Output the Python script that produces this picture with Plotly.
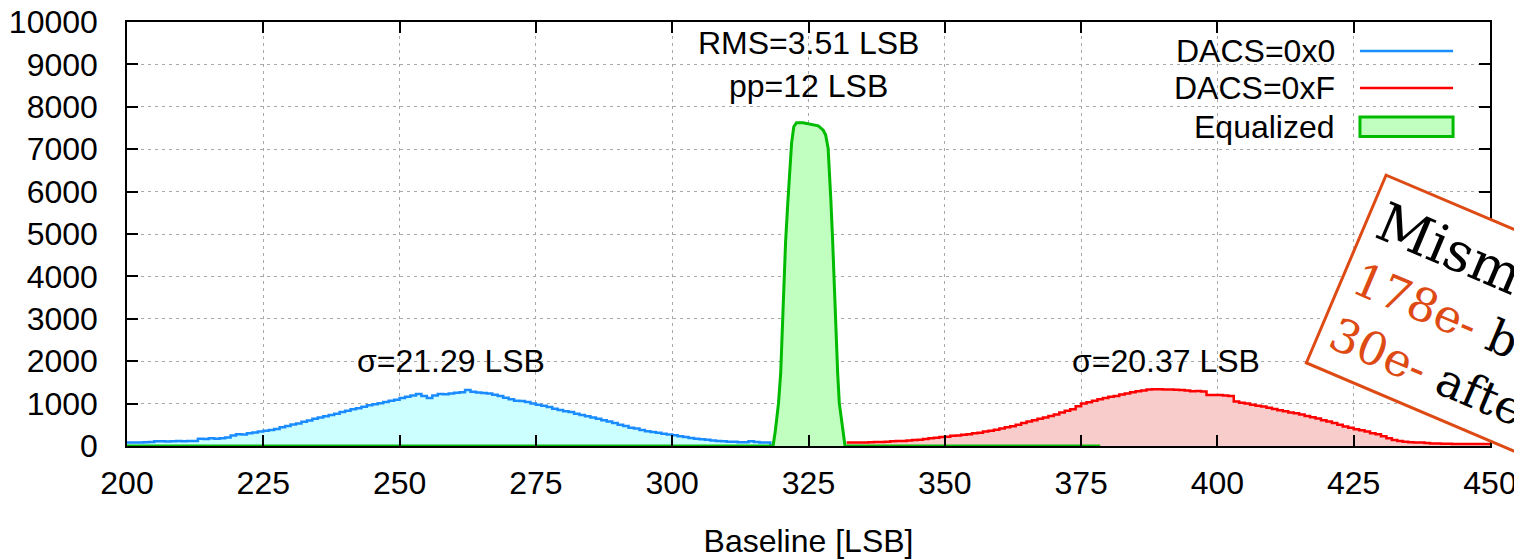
import plotly.graph_objects as go

# ---- data ----
blue_x = list(range(200, 319))
blue_y = [80, 80, 85, 90, 95, 110, 110, 105, 110, 115,
          110, 115, 120, 170, 165, 180, 170, 185, 200, 250,
          275, 270, 300, 320, 340, 360, 380, 400, 440, 470,
          505, 530, 570, 600, 640, 675, 700, 730, 760, 800,
          830, 865, 890, 925, 960, 985, 1010, 1040, 1070, 1090,
          1130, 1160, 1190, 1225, 1180, 1130, 1190, 1225, 1220, 1240,
          1255, 1270, 1320, 1280, 1260, 1250, 1240, 1210, 1180, 1140,
          1100, 1070, 1060, 1040, 1000, 970, 950, 920, 880, 850,
          820, 800, 760, 730, 700, 670, 640, 610, 580, 540,
          500, 470, 430, 410, 380, 350, 330, 310, 290, 270,
          255, 230, 210, 190, 170, 160, 150, 130, 120, 110,
          100, 100, 90, 90, 110, 95, 85, 85, 0]

red_x = list(range(332, 451))
red_y = [80, 80, 85, 85, 90, 95, 95, 100, 110, 120,
         120, 130, 140, 150, 165, 180, 195, 210, 220, 240,
         250, 265, 280, 300, 315, 340, 360, 385, 410, 440,
         465, 500, 540, 580, 610, 645, 675, 710, 745, 790,
         830, 865, 935, 1005, 1030, 1070, 1100, 1130, 1160, 1180,
         1215, 1240, 1265, 1290, 1310, 1335, 1340, 1340, 1335, 1330,
         1325, 1320, 1310, 1290, 1300, 1285, 1200, 1200, 1200, 1190,
         1180, 1050, 1020, 1000, 975, 950, 930, 900, 870, 845,
         820, 790, 770, 740, 710, 680, 650, 610, 575, 540,
         500, 460, 430, 395, 370, 340, 300, 275, 230, 180,
         140, 120, 100, 90, 85, 80, 70, 60, 60, 55,
         55, 50, 50, 50, 45, 45, 45, 45, 45]

green_x = [200, 318.5, 318.9, 319.5, 319.9, 320.2, 320.5, 320.8, 321.2, 321.6,
           321.9, 322.3, 322.8, 324.0, 325.3, 326.8, 327.7, 328.15, 328.6, 328.9,
           329.1, 329.4, 329.7, 330.05, 330.35, 330.65, 331.1, 331.7, 378.5]
green_y = [0, 0, 340, 1010, 1720, 2810, 3875, 4820, 5730, 6560,
           7150, 7530, 7625, 7625, 7590, 7550, 7450, 7335, 7020, 6440,
           5800, 4935, 3840, 2815, 1720, 1010, 540, 0, 0]

series_names = ["DACS=0x0", "DACS=0xF", "Equalized"]
x_ticks = [200, 225, 250, 275, 300, 325, 350, 375, 400, 425, 450]
y_ticks = [0, 1000, 2000, 3000, 4000, 5000, 6000, 7000, 8000, 9000, 10000]

BLUE = "#1a8cff"
RED = "#ff0000"
GREEN = "#00bb00"
ORANGE = "#dd4a14"
FONT = "Liberation Sans, Arial, sans-serif"
FS = 32

fig = go.Figure()
fig.add_trace(go.Scatter(x=blue_x, y=blue_y, mode="lines", line_shape="hv",
                         line=dict(color=BLUE, width=2.5), fill="tozeroy",
                         fillcolor="#ccffff", name=series_names[0]))
fig.add_trace(go.Scatter(x=red_x, y=red_y, mode="lines", line_shape="hv",
                         line=dict(color=RED, width=2.5), fill="tozeroy",
                         fillcolor="#f9cccc", name=series_names[1]))
fig.add_trace(go.Scatter(x=green_x, y=green_y, mode="lines",
                         line=dict(color=GREEN, width=3), fill="tozeroy",
                         fillcolor="#c0ffc0", name=series_names[2]))

axis_common = dict(showline=True, linecolor="black", linewidth=1.5, mirror="ticks",
                   ticks="inside", ticklen=11, tickwidth=1.5, tickcolor="black",
                   showgrid=True, gridcolor="#a8a8a8", gridwidth=1, griddash="3px,4px",
                   zeroline=False, automargin=False, ticklabeloverflow="allow",
                   tickfont=dict(family=FONT, size=FS, color="black"))

fig.update_xaxes(range=[200, 450], tickvals=x_ticks, ticktext=[str(v) for v in x_ticks],
                 ticklabelstandoff=8,
                 title=dict(text="Baseline [LSB]", font=dict(family=FONT, size=FS, color="black"),
                            standoff=29),
                 **axis_common)
fig.update_yaxes(range=[0, 10000], tickvals=y_ticks, ticktext=[str(v) for v in y_ticks],
                 ticklabelstandoff=21, **axis_common)

annotations = [
    dict(x=325, y=9500, xref="x", yref="y", text="RMS=3.51 LSB", showarrow=False,
         font=dict(family=FONT, size=FS, color="black")),
    dict(x=325, y=8500, xref="x", yref="y", text="pp=12 LSB", showarrow=False,
         font=dict(family=FONT, size=FS, color="black")),
    dict(x=259.5, y=2000, xref="x", yref="y", text="σ=21.29 LSB", showarrow=False,
         font=dict(family=FONT, size=FS, color="black")),
    dict(x=390.5, y=2000, xref="x", yref="y", text="σ=20.37 LSB", showarrow=False,
         font=dict(family=FONT, size=FS, color="black")),
]
# manual gnuplot-style legend (text, then sample)
leg_y = [0.9316, 0.8443, 0.7535]
for name, yy in zip(series_names, leg_y):
    annotations.append(dict(x=0.8877, y=yy, xref="paper", yref="paper", text=name,
                            showarrow=False, xanchor="right", yanchor="middle",
                            font=dict(family=FONT, size=FS, color="black")))

annotations.append(dict(
    x=1.0025, y=0.27, xref="paper", yref="paper", showarrow=False,
    xanchor="center", yanchor="middle", textangle=23, align="left",
    text=("<span style='font-size:54px'>Mismatch:</span><br>"
          f"<span style='color:{ORANGE}'>178e-</span> before<br>"
          f"<span style='color:{ORANGE}'>30e-</span> after"),
    font=dict(family="DejaVu Serif, serif", size=46, color="black"),
    bordercolor=ORANGE, borderwidth=3, borderpad=10, bgcolor="white"))

shapes = [
    dict(type="line", xref="paper", yref="paper", x0=0.9046, x1=0.9729,
         y0=leg_y[0], y1=leg_y[0], line=dict(color=BLUE, width=2.5)),
    dict(type="line", xref="paper", yref="paper", x0=0.9046, x1=0.9729,
         y0=leg_y[1], y1=leg_y[1], line=dict(color=RED, width=2.5)),
    dict(type="rect", xref="paper", yref="paper", x0=0.9046, x1=0.9729,
         y0=0.73, y1=0.776, line=dict(color=GREEN, width=3), fillcolor="#c0ffc0"),
]

# the page adds an 8px body margin, so margins are offset by 8px
fig.update_layout(width=1522, height=559, showlegend=False,
                  margin=dict(l=119, r=40, t=14, b=121),
                  paper_bgcolor="white", plot_bgcolor="white",
                  annotations=annotations, shapes=shapes)

fig.write_html("out.html")
